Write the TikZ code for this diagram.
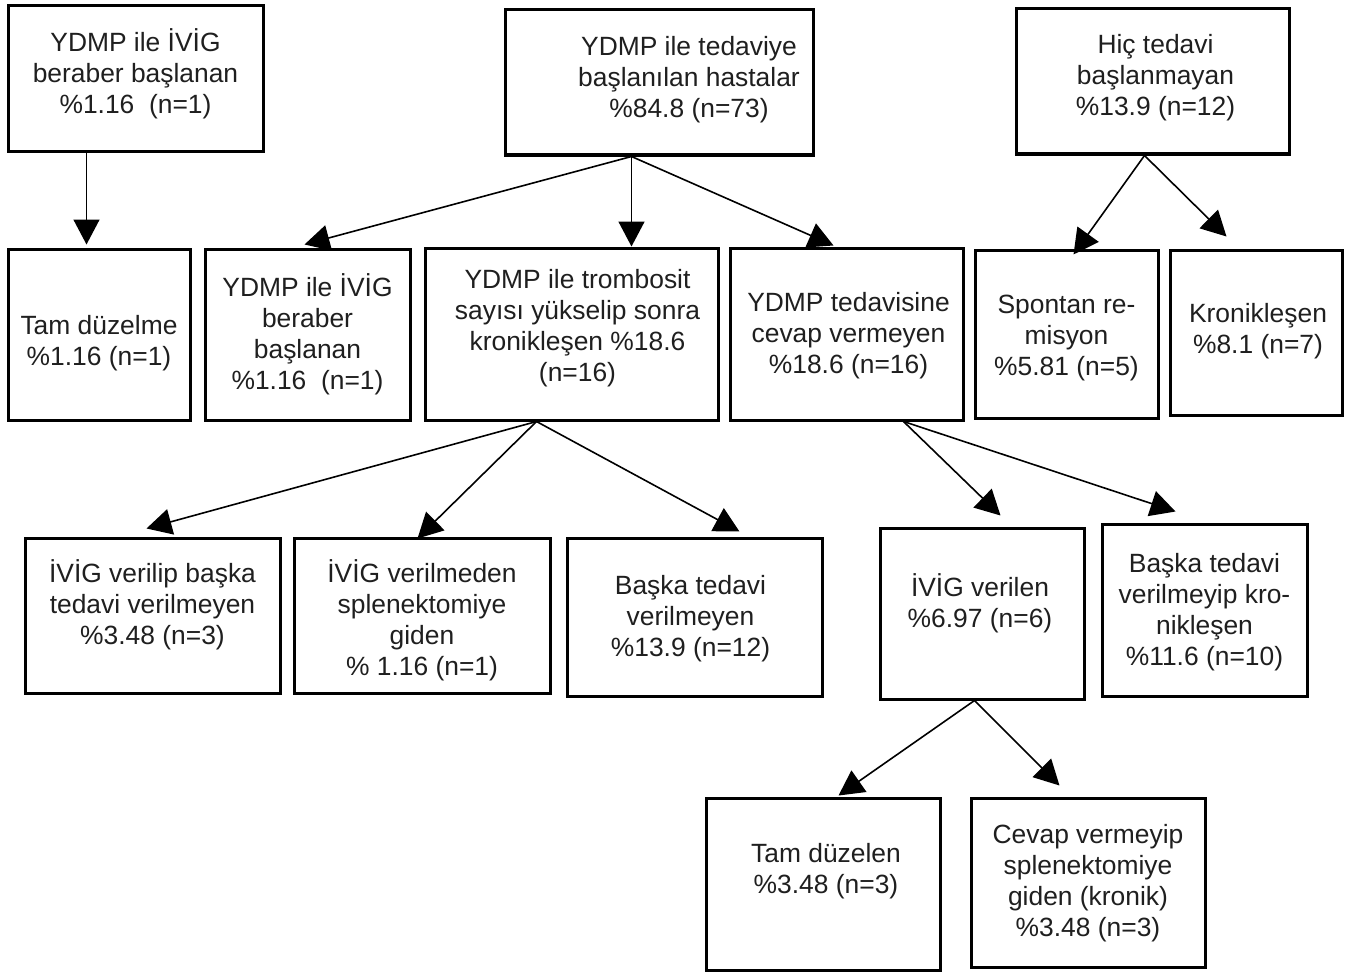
\documentclass[tikz,border=0pt]{standalone}
\usepackage{fontspec}
\setmainfont{Liberation Sans}
\usetikzlibrary{fit,calc,arrows.meta}
\begin{document}
\begin{tikzpicture}[x=0.5pt,y=-0.5pt,
  box/.style={draw, line width=1.5pt, inner sep=0pt, rectangle},
  txt/.style={align=center, font=\fontsize{13.2}{15.5}\selectfont, text=black!88, inner sep=0pt},
  arr/.style={line width=0.8pt, -{Triangle[length=12.5pt,width=13pt]}}]
\fill[white] (0,0) rectangle (1349,974);
\useasboundingbox (0,0) rectangle (1349,974);

% top row
\node[box, fit={(8,6) (263,152)}, label={[txt,yshift=2.5pt]center:{YDMP ile İVİG\\beraber başlanan\\\%1.16\ \ (n=1)}}] (A) {};
\node[box, fit={(505,10) (813,155)}, label={[txt,yshift=1.5pt,xshift=15pt]center:{YDMP ile tedaviye\\başlanılan hastalar\\\%84.8 (n=73)}}] (B) {};
\node[box, fit={(1016,9) (1289,154)}, label={[txt,yshift=1.75pt,xshift=1.5pt]center:{Hiç tedavi\\başlanmayan\\\%13.9 (n=12)}}] (C) {};

% second row
\node[box, fit={(8,249) (190,420)}, label={[txt,yshift=-4.25pt]center:{Tam düzelme\\\%1.16 (n=1)}}] (D) {};
\node[box, fit={(205,249) (410,420)}, label={[txt]center:{YDMP ile İVİG\\beraber\\başlanan\\\%1.16\ \ (n=1)}}] (E) {};
\node[box, fit={(425,248) (718,420)}, label={[txt,yshift=2.75pt,xshift=3pt]center:{YDMP ile trombosit\\sayısı yükselip sonra\\kronikleşen \%18.6\\(n=16)}}] (F) {};
\node[box, fit={(730,248) (963,420)}, label={[txt,yshift=-1pt,xshift=1pt]center:{YDMP tedavisine\\cevap vermeyen\\\%18.6 (n=16)}}] (G) {};
\node[box, fit={(975,250) (1158,418)}, label={[txt,yshift=-2pt]center:{Spontan re-\\misyon\\\%5.81 (n=5)}}] (H) {};
\node[box, fit={(1170,250) (1342,415)}, label={[txt,yshift=0.5pt,xshift=1pt]center:{Kronikleşen\\\%8.1 (n=7)}}] (I) {};

% third row
\node[box, fit={(25,538) (280,693)}, label={[txt,yshift=5.25pt]center:{İVİG verilip başka\\tedavi verilmeyen\\\%3.48 (n=3)}}] (J) {};
\node[box, fit={(294,538) (550,693)}, label={[txt,yshift=-2.5pt]center:{İVİG verilmeden\\splenektomiye\\giden\\\% 1.16 (n=1)}}] (K) {};
\node[box, fit={(567,538) (822,696)}, label={[txt,yshift=-1pt,xshift=-2pt]center:{Başka tedavi\\verilmeyen\\\%13.9 (n=12)}}] (L) {};
\node[box, fit={(880,528) (1084,699)}, label={[txt,yshift=5.25pt,xshift=-1pt]center:{İVİG verilen\\\%6.97 (n=6)}}] (M) {};
\node[box, fit={(1102,524) (1307,696)}, label={[txt,yshift=-1pt]center:{Başka tedavi\\verilmeyip kro-\\nikleşen\\\%11.6 (n=10)}}] (N) {};

% fourth row
\node[box, fit={(706,798) (940,970)}, label={[txt,yshift=6.25pt,xshift=1.5pt]center:{Tam düzelen\\\%3.48 (n=3)}}] (O) {};
\node[box, fit={(971,798) (1205,967)}, label={[txt,yshift=-0.5pt]center:{Cevap vermeyip\\splenektomiye\\giden (kronik)\\\%3.48 (n=3)}}] (P) {};

% connectors
\draw[arr] ($(A.south west)+(80,0)$) -- ($(D.north west)+(80,-3)$);

\draw[arr] ($(B.south west)+(128,0)$) -- ($(E.north west)+(101,-3)$);
\draw[arr] ($(B.south west)+(128,0)$) -- ($(F.north west)+(208,0)$);
\draw[arr] ($(B.south west)+(128,0)$) -- ($(G.north west)+(105,-1)$);

\draw[arr] ($(C.south west)+(130,0)$) -- ($(H.north west)+(100,6)$);
\draw[arr] ($(C.south west)+(130,0)$) -- ($(I.north west)+(58,-12)$);

\draw[arr] ($(F.south west)+(113,0)$) -- ($(J.north west)+(123,-8)$);
\draw[arr] ($(F.south west)+(113,0)$) -- ($(K.north west)+(125,2)$);
\draw[arr] ($(F.south west)+(113,0)$) -- ($(L.north west)+(174,-5)$);

\draw[arr] ($(G.south west)+(175,0)$) -- ($(M.north west)+(122,-11)$);
\draw[arr] ($(G.south west)+(175,0)$) -- ($(N.north west)+(75,-11)$);

\draw[arr] ($(M.south west)+(96,0)$) -- ($(O.north west)+(134,-1)$);
\draw[arr] ($(M.south west)+(96,0)$) -- ($(P.north west)+(90,-11)$);
\end{tikzpicture}
\end{document}
